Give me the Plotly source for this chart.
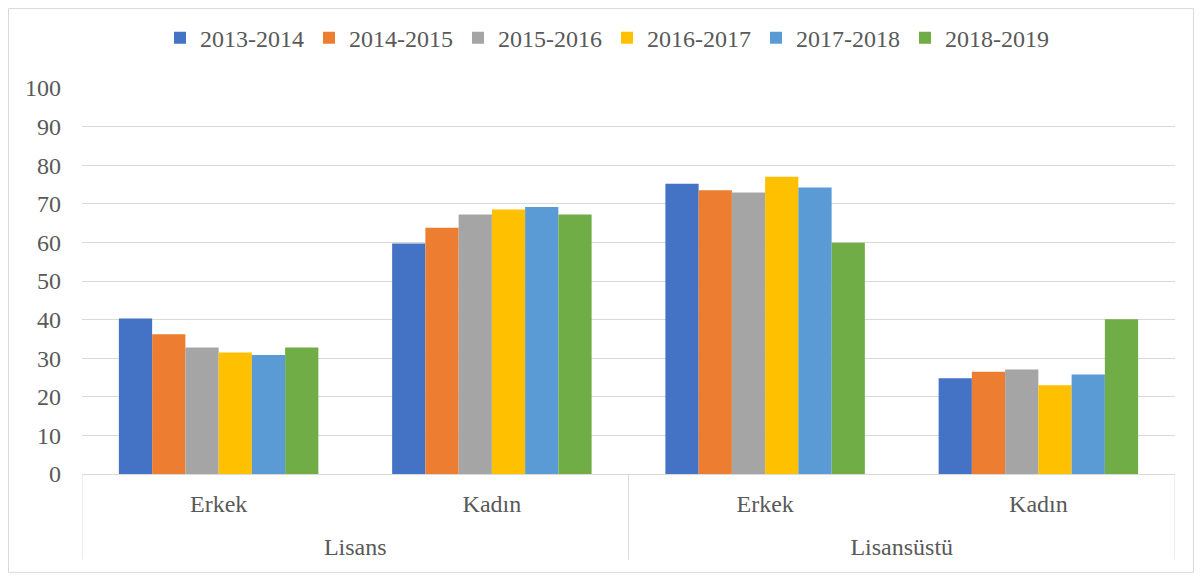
import plotly.graph_objects as go

levels = ["Lisans", "Lisansüstü"]
genders = ["Erkek", "Kadın", "Erkek", "Kadın"]
series_names = ["2013-2014", "2014-2015", "2015-2016", "2016-2017", "2017-2018", "2018-2019"]
colors = ["#4472C4", "#ED7D31", "#A5A5A5", "#FFC000", "#5B9BD5", "#70AD47"]

v_2013_2014 = [40.3, 59.7, 75.2, 24.8]
v_2014_2015 = [36.2, 63.8, 73.5, 26.5]
v_2015_2016 = [32.8, 67.2, 72.9, 27.1]
v_2016_2017 = [31.5, 68.5, 77.0, 23.0]
v_2017_2018 = [30.8, 69.2, 74.2, 25.8]
v_2018_2019 = [32.8, 67.2, 59.9, 40.1]
all_values = [v_2013_2014, v_2014_2015, v_2015_2016, v_2016_2017, v_2017_2018, v_2018_2019]

FONT = "Liberation Serif, Times New Roman, serif"
TXT = "#595959"
GRID = "#D9D9D9"
FS = 24

pos = list(range(len(genders)))
level_pos = [0.5, 2.5]

fig = go.Figure()
for name, vals, col in zip(series_names, all_values, colors):
    fig.add_trace(go.Bar(
        x=pos, y=vals, name=name,
        marker=dict(color=col, line=dict(width=0)),
        hoverinfo="y+name",
    ))
# carrier for the outer category axis
fig.add_trace(go.Scatter(x=level_pos, y=[None, None], xaxis="x2", mode="markers",
                         showlegend=False, hoverinfo="skip"))

# page body has an 8px default margin; target coordinates are window pixels
OFF = 8
WIN_W, WIN_H = 1202, 577
W, H = WIN_W - OFF, WIN_H - OFF
PL, PR, PT, PB = 82, 1175, 88, 474.5   # plot area in window pixels
ml, mr, mt, mb = PL - OFF, WIN_W - PR, PT - OFF, WIN_H - PB
pw = PR - PL
ph = PB - PT

def px_x(x):
    return (x - PL) / pw

def px_y(y):
    return (PB - y) / ph

shapes = [dict(type="rect", xref="paper", yref="paper",
               x0=px_x(8.5), x1=px_x(1193.5), y0=px_y(573), y1=px_y(8.5),
               line=dict(color=GRID, width=1), layer="below")]
for xd in [-0.5, 1.5, 3.5]:
    shapes.append(dict(type="line", xref="x", yref="paper", x0=xd, x1=xd,
                       y0=0, y1=px_y(560), line=dict(color=GRID, width=1)))

fig.update_layout(
    width=W, height=H,
    margin=dict(l=ml, r=mr, t=mt, b=mb, pad=0, autoexpand=False),
    paper_bgcolor="white", plot_bgcolor="white",
    barmode="group", bargap=0.27, bargroupgap=0,
    font=dict(family=FONT, size=FS, color=TXT),
    showlegend=True,
    legend=dict(orientation="h", x=px_x(607), xanchor="center", y=px_y(38), yanchor="middle",
                font=dict(family=FONT, size=FS, color=TXT),
                tracegroupgap=0, itemsizing="constant", itemwidth=30),
    xaxis=dict(
        range=[-0.5, 3.5], tickvals=pos, ticktext=genders,
        showline=True, linecolor=GRID, linewidth=1,
        showgrid=False, zeroline=False, ticks="", ticklabelstandoff=8,
        tickfont=dict(family=FONT, size=FS, color=TXT), automargin=False,
    ),
    xaxis2=dict(
        overlaying="x", matches="x", anchor="free", position=0, side="bottom",
        tickvals=level_pos, ticktext=levels, showline=False, showgrid=False,
        zeroline=False, ticks="", ticklabelstandoff=56,
        tickfont=dict(family=FONT, size=FS, color=TXT), automargin=False,
    ),
    yaxis=dict(
        range=[0, 100], dtick=10, showgrid=True, gridcolor=GRID, gridwidth=1,
        zeroline=False, showline=False, ticks="", ticklabelstandoff=20,
        tickfont=dict(family=FONT, size=FS, color=TXT), automargin=False,
    ),
    shapes=shapes,
)

fig.write_html("out.html")
